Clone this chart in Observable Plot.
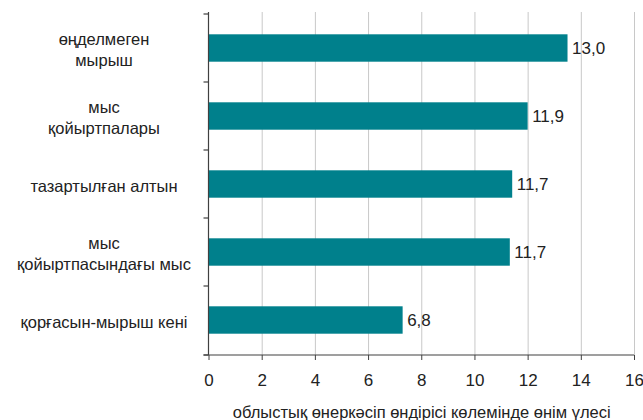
<!DOCTYPE html>
<html>
<head>
<meta charset="utf-8">
<script src="https://cdn.jsdelivr.net/npm/d3@7"></script>
<script src="https://cdn.jsdelivr.net/npm/@observablehq/plot@0.6"></script>
<style>
  html, body { margin: 0; padding: 0; background: #ffffff; }
</style>
</head>
<body>
<div id="chart"></div>
<script>
// Categories (top to bottom)
const categories = [
  "өңделмеген\nмырыш",
  "мыс\nқойыртпалары",
  "тазартылған алтын",
  "мыс\nқойыртпасындағы мыс",
  "қорғасын-мырыш кені"
];
// Bar lengths as drawn in the picture
const barValues = [13.5, 12.0, 11.42, 11.33, 7.3];
// Value labels as printed next to the bars
const valueLabels = ["13,0", "11,9", "11,7", "11,7", "6,8"];
// X axis ticks
const xTicks = [0, 2, 4, 6, 8, 10, 12, 14, 16];
const xTitle = "облыстық өнеркәсіп өндірісі көлемінде өнім үлесі";

const data = categories.map((c, i) => ({category: c, value: barValues[i], label: valueLabels[i]}));

const axisColor = "#404040";
const textColor = "#222222";

function axisLines(index, scales, values, dims) {
  const x = scales.x, y = scales.y;
  const yTop = dims.marginTop;
  const yBot = dims.height - dims.marginBottom;
  const x0 = x(0), x1 = x(xTicks[xTicks.length - 1]);
  const g = d3.create("svg:g").attr("stroke", axisColor).attr("stroke-width", 1.2).attr("fill", "none");
  g.append("line").attr("x1", x0).attr("x2", x0).attr("y1", yTop).attr("y2", yBot);
  g.append("line").attr("x1", x0 - 5).attr("x2", x1).attr("y1", yBot).attr("y2", yBot);
  const bounds = categories.map(c => y(c)).concat([yBot]);
  for (const b of bounds) {
    g.append("line").attr("x1", x0 - 5).attr("x2", x0).attr("y1", b).attr("y2", b);
  }
  return g.node();
}

const chart = Plot.plot({
  width: 643,
  height: 420,
  marginLeft: 208.5,
  marginRight: 9,
  marginTop: 12,
  marginBottom: 65,
  style: {fontFamily: "'Liberation Sans', Arial, sans-serif", fontSize: "16.5px", color: textColor, background: "#ffffff"},
  x: {domain: [0, 16], axis: null},
  y: {domain: categories, padding: 0, axis: null},
  marks: [
    Plot.gridX(xTicks.filter(d => d > 0), {stroke: "#c8c8c8", strokeOpacity: 1, strokeWidth: 1}),
    Plot.barX(data, {x: "value", y: "category", fill: "#00808c", insetTop: 20.3, insetBottom: 20.3}),
    Plot.text(data, {x: "value", y: "category", text: "label", textAnchor: "start", dx: 4, fontSize: 17, fill: textColor}),
    Plot.text(data, {y: "category", text: "category", frameAnchor: "left", dx: -105, textAnchor: "middle", lineHeight: 1.33, fontSize: 16.5, fill: textColor}),
    Plot.axisX({ticks: xTicks, tickSize: 5, tickPadding: 13, fontSize: 17, label: null, stroke: axisColor, fill: textColor}),
    Plot.text([xTitle], {frameAnchor: "bottom", lineAnchor: "bottom", dy: 62, fontSize: 16.5, fill: textColor}),
    axisLines
  ]
});
document.getElementById("chart").appendChild(chart);
</script>
</body>
</html>
